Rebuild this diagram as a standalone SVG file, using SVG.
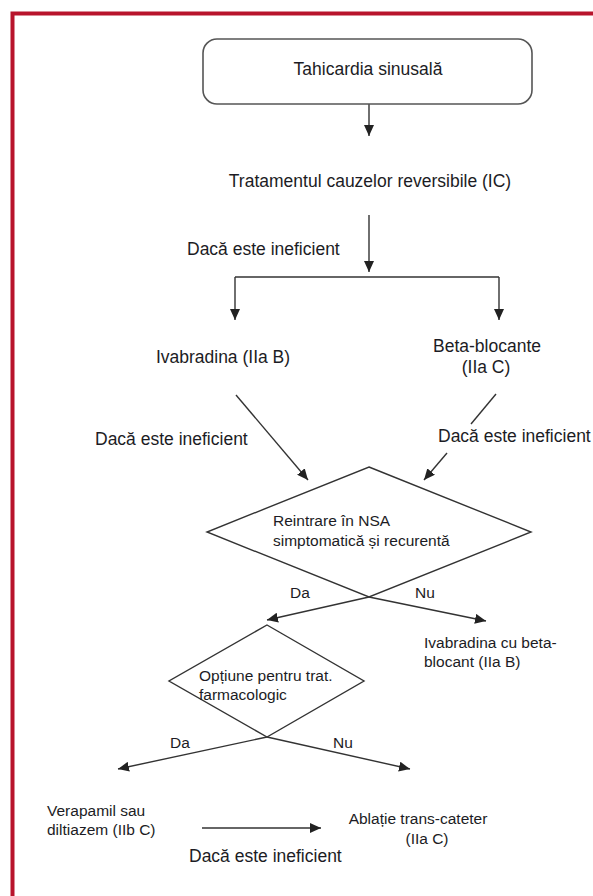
<svg xmlns="http://www.w3.org/2000/svg" width="593" height="896" viewBox="0 0 593 896">
<style>
.big{font-family:"Liberation Sans",Arial,sans-serif;font-size:17.5px;fill:#1c1c24}
.sm{font-family:"Liberation Sans",Arial,sans-serif;font-size:15.5px;fill:#1c1c24}
.mid{text-anchor:middle}
.shape{fill:#fff;stroke:#333;stroke-width:1.4}
.box{fill:#fff;stroke:#555;stroke-width:1.6}
.ln{fill:none;stroke:#333;stroke-width:1.4}
.arr{marker-end:url(#ah)}
</style>
<defs>
<marker id="ah" markerUnits="userSpaceOnUse" markerWidth="12" markerHeight="10" refX="11" refY="5" orient="auto">
<path d="M0,0 L11,5 L0,10 Z" fill="#222"/>
</marker>
</defs>
<rect x="0" y="0" width="593" height="896" fill="#fff"/>
<path d="M12.5,896 L12.5,13.5 L593,13.5" fill="none" stroke="#b8142c" stroke-width="4"/>

<g id="connectors">
<line class="ln arr" x1="369" y1="104" x2="369" y2="136"/>
<line class="ln arr" x1="369" y1="215" x2="369" y2="272"/>
<line class="ln" x1="235" y1="277" x2="499" y2="277"/>
<line class="ln arr" x1="235" y1="277" x2="235" y2="320"/>
<line class="ln arr" x1="499" y1="277" x2="499" y2="320"/>
<line class="ln arr" x1="236" y1="395" x2="308" y2="480"/>
<line class="ln" x1="496" y1="394" x2="471" y2="424"/>
<line class="ln arr" x1="447" y1="453" x2="424" y2="480"/>
<line class="ln arr" x1="369" y1="597" x2="267" y2="620"/>
<line class="ln arr" x1="369" y1="597" x2="486" y2="621"/>
<line class="ln arr" x1="267" y1="737" x2="118" y2="769"/>
<line class="ln arr" x1="267" y1="737" x2="410" y2="769"/>
<line class="ln arr" x1="202" y1="828" x2="321" y2="828"/>
</g>

<g id="start">
<rect class="box" x="203" y="39" width="329" height="65" rx="14" ry="14"/>
<text class="big mid" x="368" y="75">Tahicardia sinusală</text>
</g>
<g id="treatment">
<text class="big mid" x="370" y="187">Tratamentul cauzelor reversibile (IC)</text>
</g>
<g id="label-ineficient-1">
<text class="big" x="187" y="255">Dacă este ineficient</text>
</g>
<g id="ivabradina">
<text class="big mid" x="223" y="363">Ivabradina (IIa B)</text>
</g>
<g id="betablocante">
<text class="big mid" x="487" y="352">Beta-blocante</text>
<text class="big mid" x="486" y="373">(IIa C)</text>
</g>
<g id="label-ineficient-2">
<text class="big" x="95" y="445">Dacă este ineficient</text>
</g>
<g id="label-ineficient-3">
<text class="big" x="438" y="442">Dacă este ineficient</text>
</g>
<g id="decision1">
<polygon class="shape" points="369,467 531,532 369,597 207,532"/>
<text class="sm" x="273" y="526">Reintrare în NSA</text>
<text class="sm" x="273" y="546">simptomatică și recurentă</text>
</g>
<g id="labels-d1">
<text class="sm" x="290" y="598">Da</text>
<text class="sm" x="415" y="598">Nu</text>
</g>
<g id="ivabradina-beta">
<text class="sm" x="424" y="648">Ivabradina cu beta-</text>
<text class="sm" x="424" y="667">blocant (IIa B)</text>
</g>
<g id="decision2">
<polygon class="shape" points="267,625 364,681 267,737 169,681"/>
<text class="sm" x="199" y="681">Opțiune pentru trat.</text>
<text class="sm" x="199" y="700">farmacologic</text>
</g>
<g id="labels-d2">
<text class="sm" x="170" y="748">Da</text>
<text class="sm" x="333" y="748">Nu</text>
</g>
<g id="verapamil">
<text class="sm" x="47" y="816">Verapamil sau</text>
<text class="sm" x="47" y="835">diltiazem (IIb C)</text>
</g>
<g id="ablatie">
<text class="sm mid" x="418" y="824">Ablație trans-cateter</text>
<text class="sm mid" x="427" y="844">(IIa C)</text>
</g>
<g id="label-ineficient-4">
<text class="big" x="189" y="862">Dacă este ineficient</text>
</g>
</svg>
